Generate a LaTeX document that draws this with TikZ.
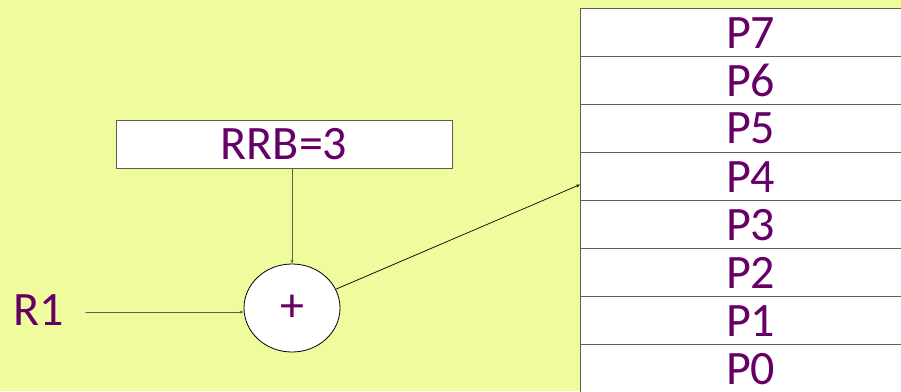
\documentclass[tikz,border=0pt]{standalone}
\usepackage{fontspec}
\setmainfont{Carlito}
\usetikzlibrary{arrows.meta, shapes.geometric, positioning, calc}
\definecolor{slide}{HTML}{F0FB9E}
\definecolor{plum}{HTML}{660066}
\definecolor{rule}{HTML}{5E5E4C}
\tikzset{el/.style={line cap=round, line join=round}}

\begin{document}
\begin{tikzpicture}[el, x=1pt, y=-1pt,
     lbl/.style={text=plum, font=\fontsize{48}{56}\selectfont},
     reg/.style={lbl, draw=rule, line width=1.2pt, fill=white, minimum width=340pt,
        minimum height=48pt, inner sep=0pt, anchor=north west},
     box/.style={lbl, draw=rule, line width=0.9pt, fill=white, minimum width=336pt,
        minimum height=48pt, inner sep=0pt},
     ar/.style={-{Stealth[length=4pt, width=3pt]}, line width=0.7pt}]
     \clip (0,0) rectangle (901,391);
     \fill[slide] (0,0) rectangle (901,391);
     % register file, P7 on top
     \foreach \i in {0,...,7}
        \node[reg] (p\i) at (580, {8+48*(7-\i)}) {P\i};
     \node[box] (rrb) at (284,144) {RRB=3};
     \node[draw, ellipse, line width=0.8pt, fill=white, minimum width=96pt,
        minimum height=88pt, inner sep=0pt, lbl] (sum) at (292,308) {+};
     \node[lbl, anchor=west, inner sep=0pt] (r1) at (13,310) {R1};
     \coordinate (r1out) at ($(r1.east)+(22,2)$);
     \coordinate (tgt) at ($(p4.west)+(0,8)$);
     \draw[ar, rule] (r1out) -- (r1out -| sum.west);
     \draw[ar, rule] (sum |- rrb.south) -- (sum.north);
     \draw[ar, black] (sum) -- (tgt);
  \end{tikzpicture}
\end{document}
